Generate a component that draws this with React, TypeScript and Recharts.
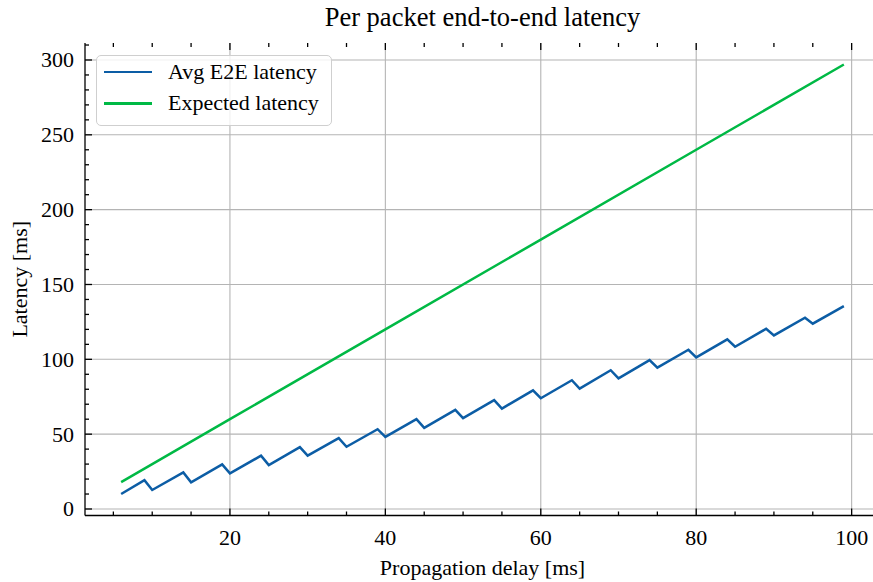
import { LineChart, Line, XAxis, YAxis, CartesianGrid, Legend, Label } from 'recharts'

// Avg E2E latency: corner points of the sawtooth (propagation delay in ms)
const avgDelay = [
  6, 9, 10, 14, 15, 19, 20, 24, 25, 29, 30, 34, 35, 39, 40, 44, 45, 49, 50,
  54, 55, 59, 60, 64, 65, 69, 70, 74, 75, 79, 80, 84, 85, 89, 90, 94, 95, 99,
]
const avgLatency = [
  10.0, 19.3, 12.7, 24.4, 17.8, 29.8, 23.8, 35.6, 29.3, 41.3, 35.6, 47.3, 41.6,
  53.3, 48.2, 60.0, 54.2, 66.2, 60.7, 72.7, 67.1, 79.3, 74.0, 86.0, 80.4, 92.7,
  87.3, 99.5, 94.4, 106.4, 101.3, 113.3, 108.4, 120.4, 116.0, 127.8, 123.8, 135.6,
]

const expectedDelay = [6, 20, 40, 60, 80, 99]
const expectedLatency = [18, 60, 120, 180, 240, 297]

const xTicks = [5, 10, 15, 20, 25, 30, 35, 40, 45, 50, 55, 60, 65, 70, 75, 80, 85, 90, 95, 100]
const xMajor = [20, 40, 60, 80, 100]
const yTicks = [
  0, 10, 20, 30, 40, 50, 60, 70, 80, 90, 100, 110, 120, 130, 140, 150, 160,
  170, 180, 190, 200, 210, 220, 230, 240, 250, 260, 270, 280, 290, 300, 310,
]
const yMajor = [0, 50, 100, 150, 200, 250, 300]

const avgData = avgDelay.map((d, i) => ({ delay: d, avg: avgLatency[i] }))
const expectedData = expectedDelay.map((d, i) => ({ delay: d, expected: expectedLatency[i] }))

const X_DOMAIN: [number, number] = [1.35, 103.65]
const Y_DOMAIN: [number, number] = [-4.35, 311.35]

const WIDTH = 881
const HEIGHT = 582
const PLOT_LEFT = 85
const PLOT_TOP = 43
const X_AXIS_H = 66.5
const PLOT_BOTTOM = HEIGHT - X_AXIS_H

const FONT = '"Liberation Serif", "Times New Roman", serif'
const BLUE = '#0C5DA5'
const GREEN = '#00B945'
const SPINE = 1.3

const XTick = (props: any) => {
  const { x, payload } = props
  const v = payload.value
  const major = xMajor.includes(v)
  const len = major ? 7 : 4
  return (
    <g>
      <line x1={x} x2={x} y1={PLOT_BOTTOM} y2={PLOT_BOTTOM - len} stroke="#000" strokeWidth={SPINE} />
      <line x1={x} x2={x} y1={PLOT_TOP} y2={PLOT_TOP + len} stroke="#000" strokeWidth={SPINE} />
      {major && (
        <text x={x} y={PLOT_BOTTOM + 29} textAnchor="middle" fontFamily={FONT} fontSize={22} fill="#000">
          {v}
        </text>
      )}
    </g>
  )
}

const YTick = (props: any) => {
  const { y, payload } = props
  const v = payload.value
  const major = yMajor.includes(v)
  const len = major ? 7 : 4
  return (
    <g>
      <line x1={PLOT_LEFT} x2={PLOT_LEFT + len} y1={y} y2={y} stroke="#000" strokeWidth={SPINE} />
      {major && (
        <text x={PLOT_LEFT - 11} y={y + 7.5} textAnchor="end" fontFamily={FONT} fontSize={22} fill="#000">
          {v}
        </text>
      )}
    </g>
  )
}

const LegendBox = (props: any) => {
  const items = props.payload || []
  return (
    <div
      style={{
        width: 236,
        height: 71,
        boxSizing: 'border-box',
        border: '1.3px solid #cfcfcf',
        borderRadius: 5,
        background: 'rgba(255,255,255,0.8)',
      }}
    >
      {items.map((item: any) => (
        <div key={item.value} style={{ display: 'flex', alignItems: 'center', height: 31.6 }}>
          <div style={{ width: 48, height: 2.5, background: item.color, marginLeft: 7, marginRight: 16 }} />
          <span style={{ fontFamily: FONT, fontSize: 22, color: '#000', lineHeight: '22px' }}>{item.value}</span>
        </div>
      ))}
    </div>
  )
}

export default function App() {
  return (
    <div
      style={{
        position: 'absolute',
        left: 0,
        top: 0,
        width: 873,
        height: 582,
        overflow: 'hidden',
        background: '#fff',
      }}
    >
      <div
        style={{
          position: 'absolute',
          left: PLOT_LEFT,
          width: WIDTH - PLOT_LEFT - 1,
          top: 4,
          textAlign: 'center',
          fontFamily: FONT,
          fontSize: 26.5,
          lineHeight: '27px',
          color: '#000',
        }}
      >
        Per packet end-to-end latency
      </div>
      <LineChart width={WIDTH} height={HEIGHT} margin={{ top: PLOT_TOP, right: 1, bottom: 0, left: 0 }}>
        <CartesianGrid
          stroke="#b4b4b4"
          strokeWidth={1.1}
          horizontalValues={yMajor}
          verticalValues={xMajor}
        />
        <XAxis
          dataKey="delay"
          type="number"
          domain={X_DOMAIN}
          allowDataOverflow
          ticks={xTicks}
          interval={0}
          tick={<XTick />}
          tickLine={false}
          axisLine={{ stroke: '#000', strokeWidth: SPINE }}
          height={X_AXIS_H}
        >
          <Label
            content={(p: any) => (
              <text
                x={p.viewBox.x + p.viewBox.width / 2}
                y={PLOT_BOTTOM + 59}
                textAnchor="middle"
                fontFamily={FONT}
                fontSize={22}
                fill="#000"
              >
                Propagation delay [ms]
              </text>
            )}
          />
        </XAxis>
        <XAxis
          xAxisId="top"
          orientation="top"
          type="number"
          domain={X_DOMAIN}
          allowDataOverflow
          tick={false}
          tickLine={false}
          axisLine={{ stroke: '#000', strokeWidth: SPINE }}
          height={0}
        />
        <YAxis
          type="number"
          domain={Y_DOMAIN}
          allowDataOverflow
          ticks={yTicks}
          interval={0}
          tick={<YTick />}
          tickLine={false}
          axisLine={{ stroke: '#000', strokeWidth: SPINE }}
          width={PLOT_LEFT}
        >
          <Label
            content={(p: any) => {
              const cy = p.viewBox.y + p.viewBox.height / 2
              return (
                <text
                  x={27}
                  y={cy}
                  transform={`rotate(-90, 27, ${cy})`}
                  textAnchor="middle"
                  fontFamily={FONT}
                  fontSize={22}
                  fill="#000"
                >
                  Latency [ms]
                </text>
              )
            }}
          />
        </YAxis>
        <Legend
          layout="horizontal"
          verticalAlign="middle"
          align="center"
          content={<LegendBox />}
          wrapperStyle={{ top: 55, left: 96, width: 'auto' }}
        />
        <Line
          data={avgData}
          dataKey="avg"
          name="Avg E2E latency"
          stroke={BLUE}
          strokeWidth={2.5}
          dot={false}
          type="linear"
          isAnimationActive={false}
        />
        <Line
          data={expectedData}
          dataKey="expected"
          name="Expected latency"
          stroke={GREEN}
          strokeWidth={2.5}
          dot={false}
          type="linear"
          isAnimationActive={false}
        />
      </LineChart>
    </div>
  )
}
